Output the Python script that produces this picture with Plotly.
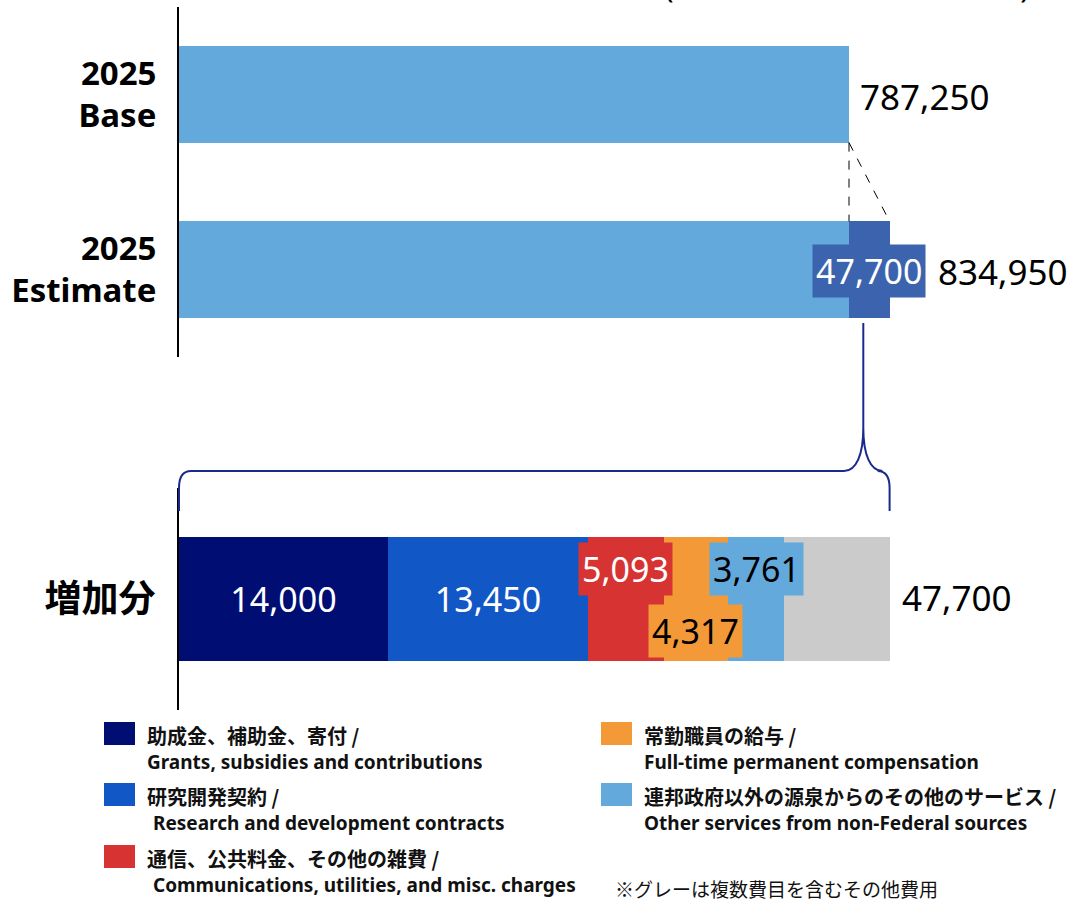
import plotly.graph_objects as go

# ---------------- data ----------------
top_categories = ["2025 Base", "2025 Estimate"]
top_ticktext = ["<b>2025<br>Base</b>", "<b>2025<br>Estimate</b>"]
base_values = [787250, 787250]
increase_values = [0, 47700]
top_totals = [787250, 834950]

inc_category = "増加分"
inc_names_jp = ["助成金、補助金、寄付", "研究開発契約", "通信、公共料金、その他の雑費",
                "常勤職員の給与", "連邦政府以外の源泉からのその他のサービス", "その他費用"]
inc_names_en = ["Grants, subsidies and contributions", "Research and development contracts",
                "Communications, utilities, and misc. charges", "Full-time permanent compensation",
                "Other services from non-Federal sources", "Other"]
inc_values = [14000, 13450, 5093, 4317, 3761, 7079]
inc_total = 47700
note_text = "※グレーは複数費目を含むその他費用"
unit_text = "(In thousands of dollars)"

# ---------------- style ----------------
W, H = 1070, 900
L, R = 179, 20
PW = W - L - R
NUM_FONT = "Noto Sans, Open Sans, sans-serif"
JP_FONT = "Noto Sans CJK JP, Noto Sans, sans-serif"
BASE_COLOR = "#63A9DC"
INC_COLOR = "#3C64AE"
inc_colors = ["#000E73", "#1257C6", "#D73333", "#F39937", "#63A9DC", "#CBCBCB"]
BRACE_COLOR = "#1A2A8C"

# axis ranges: base bar spans 670 px of the plot width
R1 = top_totals[0] * PW / 670.0
R2 = R1 * inc_total / top_totals[1]


def px_x(px):
    return (px - L) / PW


def px_y(py):
    return 1 - py / H


fig = go.Figure()

# top bars
fig.add_trace(go.Bar(x=base_values, y=top_categories, orientation="h",
                     marker=dict(color=BASE_COLOR, line=dict(width=0)),
                     width=0.55, xaxis="x", yaxis="y", showlegend=False,
                     hoverinfo="x+y"))
fig.add_trace(go.Bar(x=increase_values, y=top_categories, orientation="h",
                     marker=dict(color=INC_COLOR, line=dict(width=0)),
                     width=0.55, xaxis="x", yaxis="y", showlegend=False,
                     hoverinfo="x+y"))

# increment breakdown
for i, v in enumerate(inc_values):
    txt = f"{v:,}" if i < 2 else ""
    fig.add_trace(go.Bar(x=[v], y=[inc_category], orientation="h",
                         marker=dict(color=inc_colors[i], line=dict(width=0)),
                         width=0.56, xaxis="x2", yaxis="y2", showlegend=False,
                         name=inc_names_en[i], text=[txt], textposition="inside",
                         insidetextanchor="middle", constraintext="none",
                         textfont=dict(family=NUM_FONT, size=34, color="white"),
                         hoverinfo="x+name"))

annotations = []
# totals
annotations.append(dict(x=top_totals[0], y=top_categories[0], xref="x", yref="y",
                         text=f"{top_totals[0]:,}", showarrow=False, xanchor="left",
                         xshift=9, yshift=-2, font=dict(family=NUM_FONT, size=35, color="black")))
annotations.append(dict(x=top_totals[1], y=top_categories[1], xref="x", yref="y",
                         text=f"{top_totals[1]:,}", showarrow=False, xanchor="left",
                         xshift=46, yshift=-2, font=dict(family=NUM_FONT, size=35, color="black")))
# increment label on estimate bar
annotations.append(dict(x=top_totals[0] + increase_values[1] / 2, y=top_categories[1],
                         xref="x", yref="y", text=f"{increase_values[1]:,}", showarrow=False,
                         bgcolor=INC_COLOR, borderpad=3, yshift=-1,
                         font=dict(family=NUM_FONT, size=34, color="white")))
# total of increment
annotations.append(dict(x=inc_total, y=inc_category, xref="x2", yref="y2",
                         text=f"{inc_total:,}", showarrow=False, xanchor="left",
                         xshift=10, yshift=2, font=dict(family=NUM_FONT, size=35, color="black")))
# boxed small segment labels
cum = 0
shifts = {2: 30, 3: -32, 4: 30}
for i, v in enumerate(inc_values):
    if i in shifts:
        annotations.append(dict(x=cum + v / 2, y=inc_category, xref="x2", yref="y2",
                                 text=f"{v:,}", showarrow=False, bgcolor=inc_colors[i],
                                 borderpad=3, yshift=shifts[i],
                                 font=dict(family=NUM_FONT, size=34,
                                           color="white" if i == 2 else "black")))
    cum += v

# cropped unit text at top (cut off in the reference as well)
annotations.append(dict(x=px_x(1032), y=1, xref="paper", yref="paper", text=unit_text,
                         showarrow=False, xanchor="right", yanchor="bottom", yshift=-9,
                         font=dict(family=NUM_FONT, size=32, color="black")))

shapes = []
# dashed connector lines
shapes.append(dict(type="line", xref="x", yref="y", x0=top_totals[0], x1=top_totals[0],
                   y0=1 - 0.275, y1=0.275, line=dict(color="black", width=1, dash="dash")))
shapes.append(dict(type="line", xref="x", yref="y", x0=top_totals[0], x1=top_totals[1],
                   y0=1 - 0.275, y1=0.275, line=dict(color="black", width=1, dash="dash")))

# brace
xc = (top_totals[0] + increase_values[1] / 2) / R1 - 6 / PW
xl = 0.0
xr = top_totals[1] / R1
yt, yp, yh, ye = px_y(323), px_y(428), px_y(471), px_y(511)
d = 12 / PW
path = (f"M {xc},{yt} L {xc},{yp} "
        f"C {xc},{px_y(455)} {xc - d * 0.6},{yh} {xc - d * 1.6},{yh} "
        f"L {xl + d},{yh} Q {xl},{yh} {xl},{px_y(488)} L {xl},{ye} "
        f"M {xc},{yp} C {xc},{px_y(455)} {xc + d * 0.6},{yh} {xc + d * 1.6},{yh} "
        f"L {xr - d},{yh} Q {xr},{yh} {xr},{px_y(488)} L {xr},{ye}")
shapes.append(dict(type="path", xref="paper", yref="paper", path=path,
                   line=dict(color=BRACE_COLOR, width=2)))

# manual legend
legend_pos = [(104, 722, 0), (104, 783, 6), (104, 845, 6), (601, 722, 0), (601, 783, 0)]
for i, (lx, ly, indent) in enumerate(legend_pos):
    shapes.append(dict(type="rect", xref="paper", yref="paper",
                       x0=px_x(lx), x1=px_x(lx + 31), y0=px_y(ly + 23), y1=px_y(ly),
                       fillcolor=inc_colors[i], line=dict(width=0)))
    annotations.append(dict(x=px_x(lx + 41), y=px_y(ly + 13), xref="paper", yref="paper",
                             text=f"<b>{inc_names_jp[i]} /</b>", showarrow=False,
                             xanchor="left", yanchor="middle",
                             font=dict(family=JP_FONT, size=20, color="#111111")))
    annotations.append(dict(x=px_x(lx + 41 + indent), y=px_y(ly + 40), xref="paper", yref="paper",
                             text=f"<b>{inc_names_en[i]}</b>", showarrow=False,
                             xanchor="left", yanchor="middle",
                             font=dict(family=NUM_FONT, size=19, color="#111111")))
annotations.append(dict(x=px_x(613), y=px_y(888), xref="paper", yref="paper",
                         text=note_text, showarrow=False, xanchor="left", yanchor="middle",
                         font=dict(family=JP_FONT, size=19, color="#111111")))

fig.update_layout(
    width=W, height=H,
    margin=dict(l=L, r=R, t=0, b=0, pad=0),
    paper_bgcolor="white", plot_bgcolor="white",
    barmode="stack", bargap=0,
    showlegend=False,
    xaxis=dict(range=[0, R1], visible=False, domain=[0, 1], anchor="y", fixedrange=True),
    yaxis=dict(type="category", categoryarray=top_categories[::-1], range=[-0.5, 1.5],
               domain=[px_y(357), px_y(7)], anchor="x", showline=True, linecolor="black",
               linewidth=2, showgrid=False, zeroline=False, ticks="",
               tickvals=top_categories, ticktext=top_ticktext, ticklabelstandoff=14,
               tickfont=dict(family=NUM_FONT, size=33, color="black"), fixedrange=True),
    xaxis2=dict(range=[0, R2], visible=False, domain=[0, 1], anchor="y2", fixedrange=True),
    yaxis2=dict(type="category", categoryarray=[inc_category], range=[-0.5, 0.5],
                domain=[px_y(710), px_y(488)], anchor="x2", showline=True, linecolor="black",
                linewidth=2, showgrid=False, zeroline=False, ticks="",
                tickvals=[inc_category], ticktext=[f"<b>{inc_category}</b>"],
                ticklabelstandoff=14,
                tickfont=dict(family=JP_FONT, size=37, color="black"), fixedrange=True),
    annotations=annotations,
    shapes=shapes,
)

fig.write_html("out.html", config={"displayModeBar": False},
               post_script="document.body.style.margin='0px';document.body.style.overflow='hidden';")
